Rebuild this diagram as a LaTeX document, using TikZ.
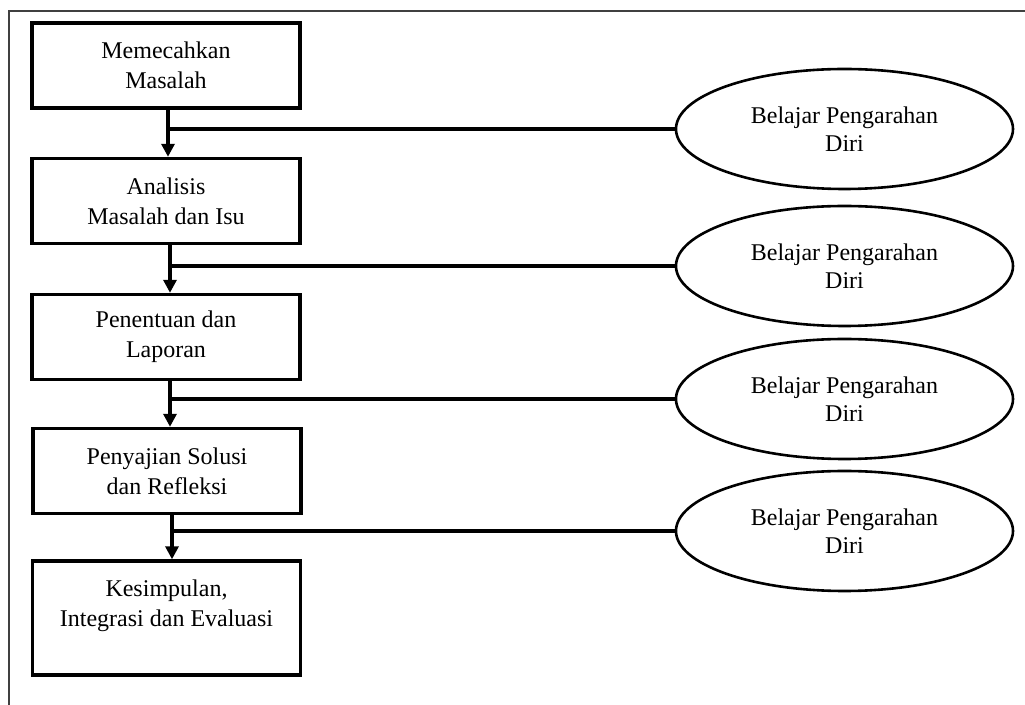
\documentclass[tikz,border=0pt]{standalone}
\usepackage{fontspec}
\setmainfont{Liberation Serif}
\usetikzlibrary{shapes.geometric,arrows.meta}

\tikzset{
  stage/.style={draw, line width=1.7pt, minimum width=134pt, minimum height=42.5pt,
    inner sep=0pt, align=center, font=\fontsize{12}{15}\selectfont},
  selfdir/.style={draw, ellipse, line width=1.3pt, minimum width=168.5pt, minimum height=60pt,
    inner sep=0pt, align=center, font=\fontsize{12}{14}\selectfont},
  flow/.style={-{Triangle[width=6.5pt,length=6.5pt]}, line width=2pt},
  link/.style={line width=2pt}
}

\begin{document}
\begin{tikzpicture}[x=0.5pt,y=-0.5pt]

\useasboundingbox (0,0) rectangle (1025,705);
\draw [black!75, line width=1pt] (9,705) -- (9,11) -- (1025,11);

\node (b1) at (166,65.5) [stage] {Memecahkan\\Masalah};
\node (b2) at (166,201) [stage] {Analisis\\Masalah dan Isu};
\node (b3) at (166,337) [stage] {Penentuan dan\\Laporan};
\node (b4) at (167,471) [stage] {Penyajian Solusi\\dan Refleksi};
\node (b5) at (166.5,618) [stage, minimum height=57pt] {Kesimpulan,\\Integrasi dan Evaluasi\\~};

\node (e1) at (844.5,129) [selfdir] {Belajar Pengarahan\\Diri};
\node (e2) at (844.5,266) [selfdir] {Belajar Pengarahan\\Diri};
\node (e3) at (844.5,399) [selfdir] {Belajar Pengarahan\\Diri};
\node (e4) at (844.5,531) [selfdir] {Belajar Pengarahan\\Diri};

\coordinate (s1) at ([xshift=1pt]b1.south);
\coordinate (s2) at ([xshift=2pt]b2.south);
\coordinate (s3) at ([xshift=2pt]b3.south);
\coordinate (s4) at ([xshift=2.5pt]b4.south);

\draw [flow] (s1) -- (s1 |- b2.north);
\draw [flow] (s2) -- (s2 |- b3.north);
\draw [flow] (s3) -- (s3 |- b4.north);
\draw [flow] (s4) -- (s4 |- b5.north);

\draw [link] (e1.west) -- (e1.west -| s1);
\draw [link] (e2.west) -- (e2.west -| s2);
\draw [link] (e3.west) -- (e3.west -| s3);
\draw [link] (e4.west) -- (e4.west -| s4);

\end{tikzpicture}
\end{document}
